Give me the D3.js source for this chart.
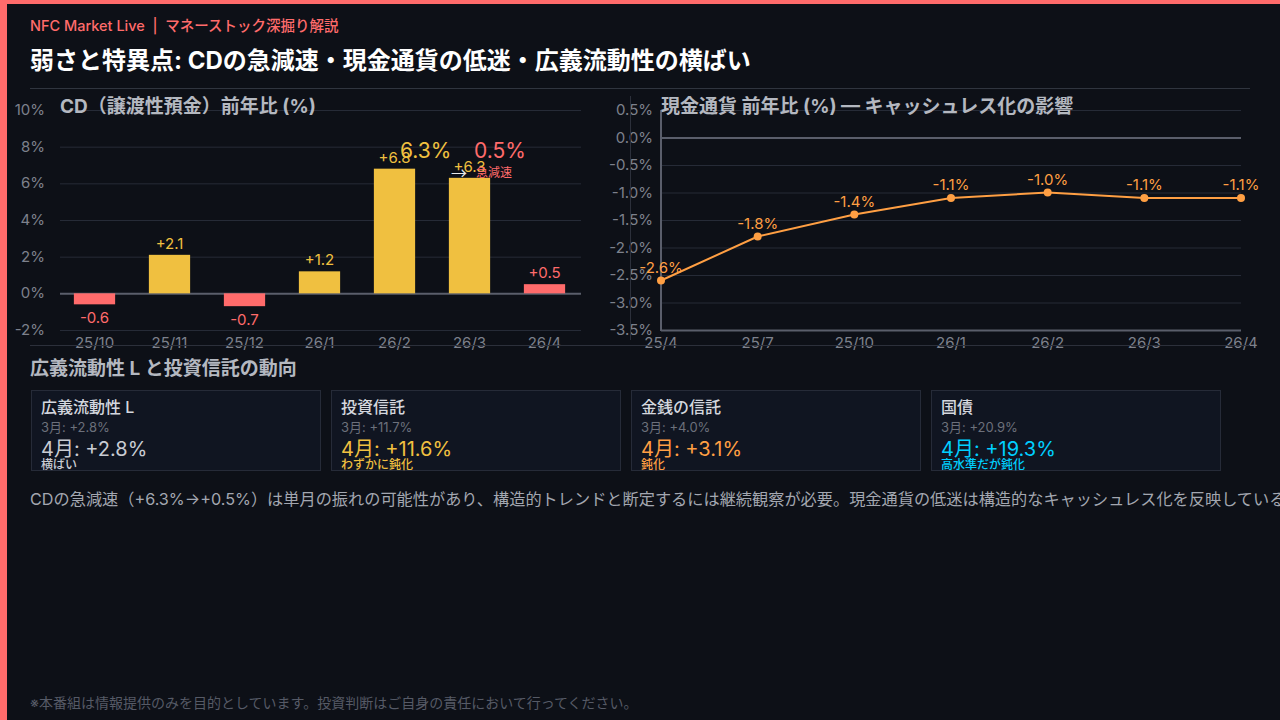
<!DOCTYPE html>
<html lang="ja">
<head>
<meta charset="UTF-8">
<title>弱さと特異点</title>
<style>
  body {
    margin: 0;
    width: 1280px;
    height: 720px;
    overflow: hidden;
    background: #0d1017;
    font-family: "Inter", "Noto Sans CJK JP", sans-serif;
  }
  svg text { font-family: "Inter", "Noto Sans CJK JP", sans-serif; }
</style>
</head>
<body>
<svg id="page" width="1280" height="720"></svg>
<script src="https://d3js.org/d3.v7.min.js"></script>
<script>
// CD 前年比
const cdMonths = ["25/10", "25/11", "25/12", "26/1", "26/2", "26/3", "26/4"];
const cdValues = [-0.6, 2.1, -0.7, 1.2, 6.8, 6.3, 0.5];
const cdTicks = [-2, 0, 2, 4, 6, 8, 10];

// 現金通貨 前年比
const cashMonths = ["25/4", "25/7", "25/10", "26/1", "26/2", "26/3", "26/4"];
const cashValues = [-2.6, -1.8, -1.4, -1.1, -1.0, -1.1, -1.1];
const cashTicks = [-3.5, -3.0, -2.5, -2.0, -1.5, -1.0, -0.5, 0.0, 0.5];

// カード
const cardNames = ["広義流動性 L", "投資信託", "金銭の信託", "国債"];
const cardMarch = [2.8, 11.7, 4.0, 20.9];
const cardApril = [2.8, 11.6, 3.1, 19.3];
const cardNotes = ["横ばい", "わずかに鈍化", "鈍化", "高水準だが鈍化"];
const cardColors = ["#c9ccd3", "#f0c040", "#ff9f43", "#00cfff"];

const RED = "#ff6b6b", YELLOW = "#f0c040", ORANGE = "#ff9f43";
const GRID = "#262b37", AXIS = "#5a5e6b", TICK = "#7d818c";

const svg = d3.select("#page");

// 枠
svg.append("rect").attr("width", 1280).attr("height", 720).attr("fill", "#0d1017");
svg.append("rect").attr("width", 1280).attr("height", 4).attr("fill", RED);
svg.append("rect").attr("width", 7).attr("height", 720).attr("fill", RED);

// ヘッダー
svg.append("text").attr("x", 30).attr("y", 31)
  .attr("fill", RED).attr("font-size", 14.5).attr("font-weight", 500)
  .text("NFC Market Live\u00a0\u00a0|\u00a0\u00a0マネーストック深掘り解説");
svg.append("text").attr("x", 30).attr("y", 69)
  .attr("fill", "#ffffff").attr("font-size", 24).attr("font-weight", 700)
  .text("弱さと特異点: CDの急減速・現金通貨の低迷・広義流動性の横ばい");
svg.append("line").attr("x1", 30).attr("x2", 1250).attr("y1", 88.5).attr("y2", 88.5)
  .attr("stroke", "#30353f");

// ---- CD 棒グラフ ----
const x1 = d3.scaleBand().domain(cdMonths).range([57, 582])
  .paddingInner(0.45).paddingOuter(0.225);
const y1 = d3.scaleLinear().domain([-2, 10]).range([330, 110]);

const g1 = svg.append("g");
g1.selectAll("line.grid").data(cdTicks).join("line")
  .attr("x1", 60).attr("x2", 581)
  .attr("y1", d => y1(d) + 0.5).attr("y2", d => y1(d) + 0.5)
  .attr("stroke", d => d === 0 ? AXIS : GRID)
  .attr("stroke-width", d => d === 0 ? 2 : 1);
g1.selectAll("text.tick").data(cdTicks).join("text")
  .attr("x", 45).attr("y", d => y1(d) + 5)
  .attr("text-anchor", "end").attr("fill", TICK).attr("font-size", 15)
  .text(d => d + "%");

const barColor = (d, i) => (d < 0 || i === cdValues.length - 1) ? RED : YELLOW;
g1.selectAll("rect.bar").data(cdValues).join("rect")
  .attr("x", (d, i) => x1(cdMonths[i]))
  .attr("width", x1.bandwidth())
  .attr("y", d => y1(Math.max(0, d)))
  .attr("height", d => Math.abs(y1(d) - y1(0)))
  .attr("fill", barColor);
g1.selectAll("text.val").data(cdValues).join("text")
  .attr("x", (d, i) => x1(cdMonths[i]) + x1.bandwidth() / 2)
  .attr("y", d => d < 0 ? y1(d) + 19 : y1(d) - 6)
  .attr("text-anchor", "middle").attr("font-size", 15)
  .attr("fill", barColor)
  .text(d => (d > 0 ? "+" : "") + d.toFixed(1));
g1.selectAll("text.xl").data(cdMonths).join("text")
  .attr("x", d => x1(d) + x1.bandwidth() / 2).attr("y", 348)
  .attr("text-anchor", "middle").attr("fill", TICK).attr("font-size", 15)
  .text(d => d);

// 注記
g1.append("text").attr("x", 400).attr("y", 158).attr("fill", YELLOW).attr("font-size", 21)
  .text(cdValues[5].toFixed(1) + "%");
g1.append("text").attr("x", 474).attr("y", 158).attr("fill", RED).attr("font-size", 21)
  .text(cdValues[6].toFixed(1) + "%");
g1.append("text").attr("x", 451).attr("y", 179).attr("fill", "#e8e8e8").attr("font-size", 16)
  .style("font-family", "'Noto Sans CJK JP', sans-serif")
  .text("→");
g1.append("text").attr("x", 476).attr("y", 177).attr("fill", RED).attr("font-size", 12)
  .text("急減速");

g1.append("text").attr("x", 60).attr("y", 113)
  .attr("fill", "#b4b8c0").attr("font-size", 19).attr("font-weight", 700)
  .text("CD（譲渡性預金）前年比 (%)");

// ---- 現金通貨 折れ線 ----
const x2 = d3.scalePoint().domain(cashMonths).range([661, 1241]);
const y2 = d3.scaleLinear().domain([-3.5, 0.5]).range([330, 110]);

const g2 = svg.append("g");
g2.selectAll("line.grid").data(cashTicks).join("line")
  .attr("x1", 661).attr("x2", 1241)
  .attr("y1", d => y2(d) + 0.5).attr("y2", d => y2(d) + 0.5)
  .attr("stroke", d => (d === 0 || d === -3.5) ? AXIS : GRID)
  .attr("stroke-width", d => (d === 0 || d === -3.5) ? 2 : 1);
g2.append("line").attr("x1", 661).attr("x2", 661).attr("y1", 110).attr("y2", 331)
  .attr("stroke", AXIS).attr("stroke-width", 2);
g2.selectAll("text.tick").data(cashTicks).join("text")
  .attr("x", 653).attr("y", d => y2(d) + 5)
  .attr("text-anchor", "end").attr("fill", TICK).attr("font-size", 15)
  .text(d => d.toFixed(1) + "%");
g2.selectAll("text.xl").data(cashMonths).join("text")
  .attr("x", d => x2(d)).attr("y", 348)
  .attr("text-anchor", "middle").attr("fill", TICK).attr("font-size", 15)
  .text(d => d);

const line = d3.line().x((d, i) => x2(cashMonths[i])).y(d => y2(d));
g2.append("path").datum(cashValues).attr("d", line)
  .attr("fill", "none").attr("stroke", ORANGE).attr("stroke-width", 2);
g2.selectAll("circle").data(cashValues).join("circle")
  .attr("cx", (d, i) => x2(cashMonths[i])).attr("cy", d => y2(d)).attr("r", 4)
  .attr("fill", ORANGE);
g2.selectAll("text.val").data(cashValues).join("text")
  .attr("x", (d, i) => x2(cashMonths[i])).attr("y", d => y2(d) - 8)
  .attr("text-anchor", "middle").attr("fill", ORANGE).attr("font-size", 15)
  .text(d => d.toFixed(1) + "%");

g2.append("text").attr("x", 661).attr("y", 113)
  .attr("fill", "#b4b8c0").attr("font-size", 19).attr("font-weight", 700)
  .text("現金通貨 前年比 (%) — キャッシュレス化の影響");

// パネル枠の線
svg.append("line").attr("x1", 630.5).attr("x2", 630.5).attr("y1", 96).attr("y2", 340)
  .attr("stroke", "#2c303b");
svg.append("line").attr("x1", 30).attr("x2", 1250).attr("y1", 345.5).attr("y2", 345.5)
  .attr("stroke", "#2c303b");

// ---- カード ----
svg.append("text").attr("x", 30).attr("y", 375)
  .attr("fill", "#b4b8c0").attr("font-size", 19).attr("font-weight", 700)
  .text("広義流動性 L と投資信託の動向");

const fmt = v => "+" + v.toFixed(1) + "%";
const cards = svg.selectAll("g.card").data(cardNames).join("g")
  .attr("transform", (d, i) => `translate(${31 + i * 300},390)`);
cards.append("rect").attr("x", 0.5).attr("y", 0.5).attr("width", 289).attr("height", 80)
  .attr("fill", "#101521").attr("stroke", "#262b38");
cards.append("text").attr("x", 10).attr("y", 23).attr("fill", "#d4d7de").attr("font-size", 16)
  .attr("font-weight", 500)
  .text(d => d);
cards.append("text").attr("x", 10).attr("y", 42).attr("fill", "#6c707b").attr("font-size", 13)
  .text((d, i) => "3月: " + fmt(cardMarch[i]));
cards.append("text").attr("x", 10).attr("y", 66).attr("fill", (d, i) => cardColors[i]).attr("font-size", 20)
  .text((d, i) => "4月: " + fmt(cardApril[i]));
cards.append("text").attr("x", 10).attr("y", 79).attr("fill", (d, i) => cardColors[i]).attr("font-size", 12)
  .attr("font-weight", 500)
  .text((d, i) => cardNotes[i]);

// 本文
svg.append("text").attr("x", 30).attr("y", 505)
  .attr("fill", "#a3a7b0").attr("font-size", 16.2)
  .text("CDの急減速（+6.3%→+0.5%）は単月の振れの可能性があり、構造的トレンドと断定するには継続観察が必要。現金通貨の低迷は構造的なキャッシュレス化を反映している。");

svg.append("text").attr("x", 30).attr("y", 708)
  .attr("fill", "#565a66").attr("font-size", 14)
  .text("※本番組は情報提供のみを目的としています。投資判断はご自身の責任において行ってください。");
</script>
</body>
</html>
